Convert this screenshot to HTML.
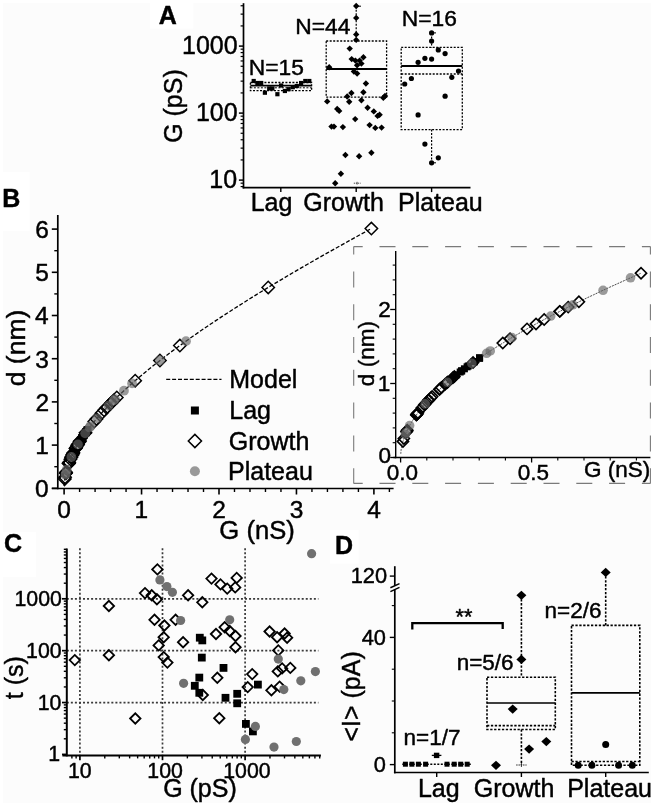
<!DOCTYPE html>
<html lang="en">
<head>
<meta charset="utf-8">
<title>Figure</title>
<style>
html,body{margin:0;padding:0;background:#fff;}
body{width:654px;height:806px;overflow:hidden;}
svg{display:block;}
svg text{font-family:"Liberation Sans",Arial,Helvetica,sans-serif;stroke:#000;stroke-width:0.45px;stroke-linejoin:round;}
</style>
</head>
<body>
<svg width="654" height="806" viewBox="0 0 654 806">
<rect x="0" y="0" width="654" height="806" fill="#fff"/>
<rect x="3" y="3" width="648" height="800" fill="#fcfcfc"/>
<rect x="150" y="0" width="43.4" height="28.5" fill="#fff"/>
<rect x="0" y="172" width="29.5" height="59" fill="#fff"/>
<rect x="0" y="532" width="36" height="45" fill="#fff"/>
<rect x="330" y="530" width="28.7" height="33.6" fill="#fff"/>
<line x1="243.50" y1="3.20" x2="243.50" y2="188.45" stroke="#000" stroke-width="1.7" />
<line x1="242.65" y1="187.60" x2="470.50" y2="187.60" stroke="#000" stroke-width="1.7" />
<line x1="240.60" y1="186.59" x2="243.50" y2="186.59" stroke="#000" stroke-width="1.2" />
<line x1="240.60" y1="183.17" x2="243.50" y2="183.17" stroke="#000" stroke-width="1.2" />
<line x1="238.90" y1="180.10" x2="243.50" y2="180.10" stroke="#000" stroke-width="1.5" />
<line x1="240.60" y1="159.93" x2="243.50" y2="159.93" stroke="#000" stroke-width="1.2" />
<line x1="240.60" y1="148.13" x2="243.50" y2="148.13" stroke="#000" stroke-width="1.2" />
<line x1="240.60" y1="139.76" x2="243.50" y2="139.76" stroke="#000" stroke-width="1.2" />
<line x1="240.60" y1="133.27" x2="243.50" y2="133.27" stroke="#000" stroke-width="1.2" />
<line x1="240.60" y1="127.96" x2="243.50" y2="127.96" stroke="#000" stroke-width="1.2" />
<line x1="240.60" y1="123.48" x2="243.50" y2="123.48" stroke="#000" stroke-width="1.2" />
<line x1="240.60" y1="119.59" x2="243.50" y2="119.59" stroke="#000" stroke-width="1.2" />
<line x1="240.60" y1="116.17" x2="243.50" y2="116.17" stroke="#000" stroke-width="1.2" />
<line x1="238.90" y1="113.10" x2="243.50" y2="113.10" stroke="#000" stroke-width="1.5" />
<line x1="240.60" y1="92.93" x2="243.50" y2="92.93" stroke="#000" stroke-width="1.2" />
<line x1="240.60" y1="81.13" x2="243.50" y2="81.13" stroke="#000" stroke-width="1.2" />
<line x1="240.60" y1="72.76" x2="243.50" y2="72.76" stroke="#000" stroke-width="1.2" />
<line x1="240.60" y1="66.27" x2="243.50" y2="66.27" stroke="#000" stroke-width="1.2" />
<line x1="240.60" y1="60.96" x2="243.50" y2="60.96" stroke="#000" stroke-width="1.2" />
<line x1="240.60" y1="56.48" x2="243.50" y2="56.48" stroke="#000" stroke-width="1.2" />
<line x1="240.60" y1="52.59" x2="243.50" y2="52.59" stroke="#000" stroke-width="1.2" />
<line x1="240.60" y1="49.17" x2="243.50" y2="49.17" stroke="#000" stroke-width="1.2" />
<line x1="238.90" y1="46.10" x2="243.50" y2="46.10" stroke="#000" stroke-width="1.5" />
<line x1="240.60" y1="25.93" x2="243.50" y2="25.93" stroke="#000" stroke-width="1.2" />
<line x1="240.60" y1="14.13" x2="243.50" y2="14.13" stroke="#000" stroke-width="1.2" />
<line x1="240.60" y1="5.76" x2="243.50" y2="5.76" stroke="#000" stroke-width="1.2" />
<line x1="280.80" y1="187.60" x2="280.80" y2="192.10" stroke="#000" stroke-width="1.4" />
<line x1="356.20" y1="187.60" x2="356.20" y2="192.10" stroke="#000" stroke-width="1.4" />
<line x1="431.60" y1="187.60" x2="431.60" y2="192.10" stroke="#000" stroke-width="1.4" />
<text x="158.70" y="23.60" font-size="25" font-weight="bold" fill="#000">A</text>
<text x="182.03" y="53.60" font-size="25" fill="#000">1000</text>
<text x="195.92" y="120.60" font-size="25" fill="#000">100</text>
<text x="209.32" y="187.50" font-size="25" fill="#000">10</text>
<text transform="translate(181.90,142.86) rotate(-90)" font-size="25" fill="#000">G (pS)</text>
<text x="250.67" y="210.80" font-size="25" fill="#000">Lag</text>
<text x="303.29" y="210.80" font-size="25" fill="#000">Growth</text>
<text x="397.96" y="210.80" font-size="25" fill="#000">Plateau</text>
<text x="248.72" y="75.20" font-size="22.8" fill="#000">N=15</text>
<text x="295.33" y="33.60" font-size="22.8" fill="#000">N=44</text>
<text x="401.84" y="26.40" font-size="22.8" fill="#000">N=16</text>
<rect x="250.40" y="82.50" width="61.20" height="8.20" fill="none" stroke="#000" stroke-width="1.3" stroke-dasharray="2 1.5"/>
<line x1="250.40" y1="85.60" x2="311.60" y2="85.60" stroke="#000" stroke-width="1.6" />
<line x1="250.40" y1="87.80" x2="311.60" y2="87.80" stroke="#000" stroke-width="1.0" stroke-dasharray="2 1.5" />
<rect x="251.60" y="78.90" width="4.2" height="4.2" fill="#000"/>
<rect x="255.30" y="80.90" width="4.2" height="4.2" fill="#000"/>
<rect x="259.10" y="80.90" width="4.2" height="4.2" fill="#000"/>
<rect x="262.80" y="90.60" width="4.2" height="4.2" fill="#000"/>
<rect x="267.10" y="86.40" width="4.2" height="4.2" fill="#000"/>
<rect x="270.30" y="86.40" width="4.2" height="4.2" fill="#000"/>
<rect x="275.30" y="92.10" width="4.2" height="4.2" fill="#000"/>
<rect x="279.00" y="83.40" width="4.2" height="4.2" fill="#000"/>
<rect x="282.80" y="88.90" width="4.2" height="4.2" fill="#000"/>
<rect x="286.50" y="87.10" width="4.2" height="4.2" fill="#000"/>
<rect x="290.70" y="85.10" width="4.2" height="4.2" fill="#000"/>
<rect x="294.70" y="83.90" width="4.2" height="4.2" fill="#000"/>
<rect x="299.00" y="80.90" width="4.2" height="4.2" fill="#000"/>
<rect x="303.20" y="78.90" width="4.2" height="4.2" fill="#000"/>
<rect x="307.20" y="78.90" width="4.2" height="4.2" fill="#000"/>
<rect x="326.20" y="41.00" width="60.40" height="56.20" fill="none" stroke="#000" stroke-width="1.3" stroke-dasharray="2 1.5"/>
<line x1="326.20" y1="69.00" x2="386.60" y2="69.00" stroke="#000" stroke-width="1.9" />
<line x1="356.20" y1="6.20" x2="356.20" y2="40.60" stroke="#000" stroke-width="1.2" stroke-dasharray="2 1.5" />
<line x1="356.20" y1="6.20" x2="361.00" y2="6.20" stroke="#000" stroke-width="1.0" />
<line x1="353.80" y1="183.20" x2="360.60" y2="183.20" stroke="#333" stroke-width="0.9" stroke-dasharray="1.2 0.8" />
<line x1="357.10" y1="181.80" x2="357.10" y2="184.60" stroke="#333" stroke-width="0.8" />
<path d="M353.00,6.00L356.20,2.80L359.40,6.00L356.20,9.20Z" fill="#000" stroke="none" stroke-width="0"/>
<path d="M353.00,17.90L356.20,14.70L359.40,17.90L356.20,21.10Z" fill="#000" stroke="none" stroke-width="0"/>
<path d="M353.00,34.40L356.20,31.20L359.40,34.40L356.20,37.60Z" fill="#000" stroke="none" stroke-width="0"/>
<path d="M353.00,39.90L356.20,36.70L359.40,39.90L356.20,43.10Z" fill="#000" stroke="none" stroke-width="0"/>
<path d="M346.50,48.60L349.70,45.40L352.90,48.60L349.70,51.80Z" fill="#000" stroke="none" stroke-width="0"/>
<path d="M348.50,59.10L351.70,55.90L354.90,59.10L351.70,62.30Z" fill="#000" stroke="none" stroke-width="0"/>
<path d="M352.20,60.60L355.40,57.40L358.60,60.60L355.40,63.80Z" fill="#000" stroke="none" stroke-width="0"/>
<path d="M356.40,60.60L359.60,57.40L362.80,60.60L359.60,63.80Z" fill="#000" stroke="none" stroke-width="0"/>
<path d="M360.20,57.30L363.40,54.10L366.60,57.30L363.40,60.50Z" fill="#000" stroke="none" stroke-width="0"/>
<path d="M358.20,63.60L361.40,60.40L364.60,63.60L361.40,66.80Z" fill="#000" stroke="none" stroke-width="0"/>
<path d="M353.90,65.30L357.10,62.10L360.30,65.30L357.10,68.50Z" fill="#000" stroke="none" stroke-width="0"/>
<path d="M326.00,67.30L329.20,64.10L332.40,67.30L329.20,70.50Z" fill="#000" stroke="none" stroke-width="0"/>
<path d="M350.70,71.50L353.90,68.30L357.10,71.50L353.90,74.70Z" fill="#000" stroke="none" stroke-width="0"/>
<path d="M353.90,73.50L357.10,70.30L360.30,73.50L357.10,76.70Z" fill="#000" stroke="none" stroke-width="0"/>
<path d="M362.70,83.50L365.90,80.30L369.10,83.50L365.90,86.70Z" fill="#000" stroke="none" stroke-width="0"/>
<path d="M348.20,93.00L351.40,89.80L354.60,93.00L351.40,96.20Z" fill="#000" stroke="none" stroke-width="0"/>
<path d="M360.20,92.20L363.40,89.00L366.60,92.20L363.40,95.40Z" fill="#000" stroke="none" stroke-width="0"/>
<path d="M344.00,96.50L347.20,93.30L350.40,96.50L347.20,99.70Z" fill="#000" stroke="none" stroke-width="0"/>
<path d="M381.80,96.00L385.00,92.80L388.20,96.00L385.00,99.20Z" fill="#000" stroke="none" stroke-width="0"/>
<path d="M380.10,97.70L383.30,94.50L386.50,97.70L383.30,100.90Z" fill="#000" stroke="none" stroke-width="0"/>
<path d="M324.00,101.40L327.20,98.20L330.40,101.40L327.20,104.60Z" fill="#000" stroke="none" stroke-width="0"/>
<path d="M346.00,101.70L349.20,98.50L352.40,101.70L349.20,104.90Z" fill="#000" stroke="none" stroke-width="0"/>
<path d="M358.20,100.20L361.40,97.00L364.60,100.20L361.40,103.40Z" fill="#000" stroke="none" stroke-width="0"/>
<path d="M364.40,107.70L367.60,104.50L370.80,107.70L367.60,110.90Z" fill="#000" stroke="none" stroke-width="0"/>
<path d="M334.00,108.90L337.20,105.70L340.40,108.90L337.20,112.10Z" fill="#000" stroke="none" stroke-width="0"/>
<path d="M336.00,110.90L339.20,107.70L342.40,110.90L339.20,114.10Z" fill="#000" stroke="none" stroke-width="0"/>
<path d="M370.60,111.40L373.80,108.20L377.00,111.40L373.80,114.60Z" fill="#000" stroke="none" stroke-width="0"/>
<path d="M376.40,114.70L379.60,111.50L382.80,114.70L379.60,117.90Z" fill="#000" stroke="none" stroke-width="0"/>
<path d="M374.40,115.90L377.60,112.70L380.80,115.90L377.60,119.10Z" fill="#000" stroke="none" stroke-width="0"/>
<path d="M352.00,119.10L355.20,115.90L358.40,119.10L355.20,122.30Z" fill="#000" stroke="none" stroke-width="0"/>
<path d="M366.40,125.10L369.60,121.90L372.80,125.10L369.60,128.30Z" fill="#000" stroke="none" stroke-width="0"/>
<path d="M328.30,126.60L331.50,123.40L334.70,126.60L331.50,129.80Z" fill="#000" stroke="none" stroke-width="0"/>
<path d="M330.80,126.60L334.00,123.40L337.20,126.60L334.00,129.80Z" fill="#000" stroke="none" stroke-width="0"/>
<path d="M339.70,127.10L342.90,123.90L346.10,127.10L342.90,130.30Z" fill="#000" stroke="none" stroke-width="0"/>
<path d="M372.10,127.90L375.30,124.70L378.50,127.90L375.30,131.10Z" fill="#000" stroke="none" stroke-width="0"/>
<path d="M378.40,127.60L381.60,124.40L384.80,127.60L381.60,130.80Z" fill="#000" stroke="none" stroke-width="0"/>
<path d="M342.20,155.00L345.40,151.80L348.60,155.00L345.40,158.20Z" fill="#000" stroke="none" stroke-width="0"/>
<path d="M355.90,156.30L359.10,153.10L362.30,156.30L359.10,159.50Z" fill="#000" stroke="none" stroke-width="0"/>
<path d="M368.20,152.80L371.40,149.60L374.60,152.80L371.40,156.00Z" fill="#000" stroke="none" stroke-width="0"/>
<path d="M337.70,173.70L340.90,170.50L344.10,173.70L340.90,176.90Z" fill="#000" stroke="none" stroke-width="0"/>
<path d="M332.00,183.20L335.20,180.00L338.40,183.20L335.20,186.40Z" fill="#000" stroke="none" stroke-width="0"/>
<rect x="401.20" y="47.40" width="61.10" height="82.20" fill="none" stroke="#000" stroke-width="1.3" stroke-dasharray="2 1.5"/>
<line x1="401.20" y1="66.00" x2="462.30" y2="66.00" stroke="#000" stroke-width="2.0" />
<line x1="401.20" y1="74.00" x2="462.30" y2="74.00" stroke="#000" stroke-width="1.3" stroke-dasharray="2 1.5" />
<line x1="431.60" y1="32.90" x2="431.60" y2="47.40" stroke="#000" stroke-width="1.2" stroke-dasharray="2 1.5" />
<line x1="431.60" y1="129.60" x2="431.60" y2="162.80" stroke="#000" stroke-width="1.2" stroke-dasharray="2 1.5" />
<line x1="431.60" y1="32.90" x2="436.00" y2="32.90" stroke="#000" stroke-width="1.0" />
<line x1="431.60" y1="162.80" x2="436.00" y2="162.80" stroke="#000" stroke-width="1.0" />
<circle cx="431.60" cy="32.90" r="2.6" fill="#000"/>
<circle cx="431.60" cy="41.10" r="2.6" fill="#000"/>
<circle cx="438.30" cy="49.90" r="2.6" fill="#000"/>
<circle cx="445.10" cy="53.60" r="2.6" fill="#000"/>
<circle cx="424.90" cy="58.30" r="2.6" fill="#000"/>
<circle cx="431.60" cy="59.10" r="2.6" fill="#000"/>
<circle cx="418.10" cy="62.30" r="2.6" fill="#000"/>
<circle cx="458.50" cy="71.00" r="2.6" fill="#000"/>
<circle cx="451.80" cy="77.30" r="2.6" fill="#000"/>
<circle cx="411.40" cy="78.50" r="2.6" fill="#000"/>
<circle cx="404.70" cy="84.00" r="2.6" fill="#000"/>
<circle cx="445.10" cy="96.20" r="2.6" fill="#000"/>
<circle cx="418.10" cy="114.90" r="2.6" fill="#000"/>
<circle cx="424.90" cy="144.10" r="2.6" fill="#000"/>
<circle cx="438.30" cy="157.80" r="2.6" fill="#000"/>
<circle cx="431.60" cy="162.80" r="2.6" fill="#000"/>
<line x1="57.80" y1="214.90" x2="57.80" y2="489.35" stroke="#000" stroke-width="1.7" />
<line x1="51.80" y1="488.50" x2="393.60" y2="488.50" stroke="#000" stroke-width="1.7" />
<line x1="51.80" y1="488.30" x2="57.80" y2="488.30" stroke="#000" stroke-width="1.6" />
<line x1="54.30" y1="466.70" x2="57.80" y2="466.70" stroke="#000" stroke-width="1.4" />
<line x1="51.80" y1="445.10" x2="57.80" y2="445.10" stroke="#000" stroke-width="1.6" />
<line x1="54.30" y1="423.50" x2="57.80" y2="423.50" stroke="#000" stroke-width="1.4" />
<line x1="51.80" y1="401.90" x2="57.80" y2="401.90" stroke="#000" stroke-width="1.6" />
<line x1="54.30" y1="380.30" x2="57.80" y2="380.30" stroke="#000" stroke-width="1.4" />
<line x1="51.80" y1="358.70" x2="57.80" y2="358.70" stroke="#000" stroke-width="1.6" />
<line x1="54.30" y1="337.10" x2="57.80" y2="337.10" stroke="#000" stroke-width="1.4" />
<line x1="51.80" y1="315.50" x2="57.80" y2="315.50" stroke="#000" stroke-width="1.6" />
<line x1="54.30" y1="293.90" x2="57.80" y2="293.90" stroke="#000" stroke-width="1.4" />
<line x1="51.80" y1="272.30" x2="57.80" y2="272.30" stroke="#000" stroke-width="1.6" />
<line x1="54.30" y1="250.70" x2="57.80" y2="250.70" stroke="#000" stroke-width="1.4" />
<line x1="51.80" y1="229.10" x2="57.80" y2="229.10" stroke="#000" stroke-width="1.6" />
<line x1="64.10" y1="488.50" x2="64.10" y2="494.50" stroke="#000" stroke-width="1.6" />
<line x1="79.59" y1="488.50" x2="79.59" y2="492.00" stroke="#000" stroke-width="1.4" />
<line x1="95.08" y1="488.50" x2="95.08" y2="492.00" stroke="#000" stroke-width="1.4" />
<line x1="110.57" y1="488.50" x2="110.57" y2="492.00" stroke="#000" stroke-width="1.4" />
<line x1="126.06" y1="488.50" x2="126.06" y2="492.00" stroke="#000" stroke-width="1.4" />
<line x1="141.55" y1="488.50" x2="141.55" y2="494.50" stroke="#000" stroke-width="1.6" />
<line x1="157.04" y1="488.50" x2="157.04" y2="492.00" stroke="#000" stroke-width="1.4" />
<line x1="172.53" y1="488.50" x2="172.53" y2="492.00" stroke="#000" stroke-width="1.4" />
<line x1="188.02" y1="488.50" x2="188.02" y2="492.00" stroke="#000" stroke-width="1.4" />
<line x1="203.51" y1="488.50" x2="203.51" y2="492.00" stroke="#000" stroke-width="1.4" />
<line x1="219.00" y1="488.50" x2="219.00" y2="494.50" stroke="#000" stroke-width="1.6" />
<line x1="234.49" y1="488.50" x2="234.49" y2="492.00" stroke="#000" stroke-width="1.4" />
<line x1="249.98" y1="488.50" x2="249.98" y2="492.00" stroke="#000" stroke-width="1.4" />
<line x1="265.47" y1="488.50" x2="265.47" y2="492.00" stroke="#000" stroke-width="1.4" />
<line x1="280.96" y1="488.50" x2="280.96" y2="492.00" stroke="#000" stroke-width="1.4" />
<line x1="296.45" y1="488.50" x2="296.45" y2="494.50" stroke="#000" stroke-width="1.6" />
<line x1="311.94" y1="488.50" x2="311.94" y2="492.00" stroke="#000" stroke-width="1.4" />
<line x1="327.43" y1="488.50" x2="327.43" y2="492.00" stroke="#000" stroke-width="1.4" />
<line x1="342.92" y1="488.50" x2="342.92" y2="492.00" stroke="#000" stroke-width="1.4" />
<line x1="358.41" y1="488.50" x2="358.41" y2="492.00" stroke="#000" stroke-width="1.4" />
<line x1="373.90" y1="488.50" x2="373.90" y2="494.50" stroke="#000" stroke-width="1.6" />
<line x1="389.39" y1="488.50" x2="389.39" y2="492.00" stroke="#000" stroke-width="1.4" />
<text x="2.26" y="207.40" font-size="25" font-weight="bold" fill="#000">B</text>
<text x="35.11" y="497.10" font-size="24.5" fill="#000">0</text>
<text x="35.35" y="453.90" font-size="24.5" fill="#000">1</text>
<text x="35.40" y="410.70" font-size="24.5" fill="#000">2</text>
<text x="35.23" y="367.50" font-size="24.5" fill="#000">3</text>
<text x="34.89" y="324.30" font-size="24.5" fill="#000">4</text>
<text x="35.18" y="281.10" font-size="24.5" fill="#000">5</text>
<text x="35.23" y="237.90" font-size="24.5" fill="#000">6</text>
<text x="57.28" y="518.00" font-size="24.5" fill="#000">0</text>
<text x="134.40" y="518.00" font-size="24.5" fill="#000">1</text>
<text x="212.19" y="518.00" font-size="24.5" fill="#000">2</text>
<text x="289.70" y="518.00" font-size="24.5" fill="#000">3</text>
<text x="367.17" y="518.00" font-size="24.5" fill="#000">4</text>
<text transform="translate(24.60,386.26) rotate(-90)" font-size="26.5" fill="#000">d (nm)</text>
<text x="219.36" y="539.30" font-size="25.6" fill="#000">G (nS)</text>
<polyline fill="none" stroke="#000" stroke-width="1.3" stroke-dasharray="4 1.9" points="64.1,486.1 64.1,486.1 64.1,486.0 64.1,486.0 64.1,485.9 64.1,485.9 64.1,485.8 64.2,485.8 64.2,485.7 64.2,485.7 64.2,485.6 64.2,485.6 64.2,485.5 64.2,485.5 64.2,485.4 64.2,485.4 64.2,485.3 64.2,485.2 64.2,485.2 64.2,485.1 64.2,485.1 64.2,485.0 64.2,484.9 64.2,484.9 64.2,484.8 64.2,484.7 64.2,484.6 64.2,484.6 64.2,484.5 64.2,484.4 64.2,484.3 64.2,484.3 64.2,484.2 64.2,484.1 64.2,484.0 64.3,483.9 64.3,483.9 64.3,483.8 64.3,483.7 64.3,483.6 64.3,483.5 64.3,483.4 64.3,483.3 64.3,483.2 64.3,483.1 64.3,483.0 64.3,482.9 64.3,482.8 64.4,482.7 64.4,482.5 64.4,482.4 64.4,482.3 64.4,482.2 64.4,482.1 64.4,481.9 64.4,481.8 64.4,481.7 64.5,481.6 64.5,481.4 64.5,481.3 64.5,481.1 64.5,481.0 64.5,480.9 64.6,480.7 64.6,480.6 64.6,480.4 64.6,480.2 64.6,480.1 64.7,479.9 64.7,479.8 64.7,479.6 64.7,479.4 64.8,479.2 64.8,479.0 64.8,478.9 64.8,478.7 64.9,478.5 64.9,478.3 64.9,478.1 65.0,477.9 65.0,477.7 65.0,477.4 65.1,477.2 65.1,477.0 65.1,476.8 65.2,476.5 65.2,476.3 65.3,476.1 65.3,475.8 65.4,475.6 65.4,475.3 65.5,475.0 65.5,474.8 65.6,474.5 65.6,474.2 65.7,473.9 65.8,473.7 65.8,473.4 65.9,473.1 66.0,472.7 66.1,472.4 66.1,472.1 66.2,471.8 66.3,471.4 66.4,471.1 66.5,470.8 66.6,470.4 66.7,470.0 66.8,469.7 66.9,469.3 67.0,468.9 67.1,468.5 67.2,468.1 67.4,467.7 67.5,467.3 67.6,466.8 67.8,466.4 67.9,465.9 68.1,465.5 68.2,465.0 68.4,464.5 68.6,464.1 68.7,463.6 68.9,463.0 69.1,462.5 69.3,462.0 69.5,461.5 69.7,460.9 70.0,460.3 70.2,459.8 70.4,459.2 70.7,458.6 71.0,458.0 71.2,457.3 71.5,456.7 71.8,456.0 72.1,455.4 72.4,454.7 72.8,454.0 73.1,453.3 73.5,452.5 73.9,451.8 74.3,451.0 74.7,450.3 75.1,449.5 75.5,448.6 76.0,447.8 76.5,447.0 77.0,446.1 77.5,445.2 78.0,444.3 78.6,443.4 79.1,442.4 79.7,441.5 80.4,440.5 81.0,439.5 81.7,438.4 82.4,437.4 83.1,436.3 83.9,435.2 84.7,434.0 85.5,432.9 86.4,431.7 87.2,430.5 88.2,429.3 89.1,428.0 90.1,426.7 91.2,425.4 92.3,424.0 93.4,422.6 94.6,421.2 95.8,419.7 97.0,418.3 98.4,416.7 99.7,415.2 101.2,413.6 102.6,411.9 104.2,410.3 105.8,408.6 107.4,406.8 109.2,405.0 111.0,403.2 112.9,401.3 114.8,399.4 116.8,397.4 118.9,395.4 121.1,393.3 123.4,391.2 125.8,389.0 128.3,386.8 130.8,384.5 133.5,382.1 136.3,379.7 139.2,377.3 142.2,374.8 145.3,372.2 148.5,369.5 151.9,366.8 155.4,364.0 159.1,361.2 162.9,358.2 166.8,355.2 170.9,352.1 175.2,349.0 179.7,345.7 184.3,342.4 189.1,339.0 194.1,335.4 199.3,331.8 204.7,328.1 210.3,324.3 216.2,320.4 222.2,316.4 228.6,312.3 235.2,308.0 242.0,303.7 249.1,299.2 256.5,294.6 264.2,289.9 272.2,285.0 280.5,280.1 289.2,274.9 298.2,269.6 307.6,264.2 317.3,258.6 327.4,252.9 338.0,247.0 348.9,240.9 360.3,234.6 370.0,229.3"/>
<rect x="83.69" y="426.47" width="7.5" height="7.5" fill="#000"/>
<rect x="82.14" y="428.59" width="7.5" height="7.5" fill="#000"/>
<rect x="82.14" y="428.59" width="7.5" height="7.5" fill="#000"/>
<rect x="75.96" y="437.75" width="7.5" height="7.5" fill="#000"/>
<rect x="78.39" y="433.99" width="7.5" height="7.5" fill="#000"/>
<rect x="78.39" y="433.99" width="7.5" height="7.5" fill="#000"/>
<rect x="75.18" y="439.01" width="7.5" height="7.5" fill="#000"/>
<rect x="80.35" y="431.12" width="7.5" height="7.5" fill="#000"/>
<rect x="76.90" y="436.26" width="7.5" height="7.5" fill="#000"/>
<rect x="77.96" y="434.64" width="7.5" height="7.5" fill="#000"/>
<rect x="79.21" y="432.77" width="7.5" height="7.5" fill="#000"/>
<rect x="80.01" y="431.61" width="7.5" height="7.5" fill="#000"/>
<rect x="82.14" y="428.59" width="7.5" height="7.5" fill="#000"/>
<rect x="83.69" y="426.47" width="7.5" height="7.5" fill="#000"/>
<rect x="83.69" y="426.47" width="7.5" height="7.5" fill="#000"/>
<path d="M58.60,478.92L64.80,472.72L71.00,478.92L64.80,485.12Z" fill="none" stroke="#000" stroke-width="1.5"/>
<path d="M58.87,477.23L65.07,471.03L71.27,477.23L65.07,483.43Z" fill="none" stroke="#000" stroke-width="1.5"/>
<path d="M59.65,473.28L65.85,467.08L72.05,473.28L65.85,479.48Z" fill="none" stroke="#000" stroke-width="1.5"/>
<path d="M59.74,472.94L65.94,466.74L72.14,472.94L65.94,479.14Z" fill="none" stroke="#000" stroke-width="1.5"/>
<path d="M59.88,472.33L66.08,466.13L72.28,472.33L66.08,478.53Z" fill="none" stroke="#000" stroke-width="1.5"/>
<path d="M62.56,463.49L68.76,457.29L74.96,463.49L68.76,469.69Z" fill="none" stroke="#000" stroke-width="1.5"/>
<path d="M62.61,463.36L68.81,457.16L75.01,463.36L68.81,469.56Z" fill="none" stroke="#000" stroke-width="1.5"/>
<path d="M62.69,463.14L68.89,456.94L75.09,463.14L68.89,469.34Z" fill="none" stroke="#000" stroke-width="1.5"/>
<path d="M62.77,462.91L68.97,456.71L75.17,462.91L68.97,469.11Z" fill="none" stroke="#000" stroke-width="1.5"/>
<path d="M62.77,462.91L68.97,456.71L75.17,462.91L68.97,469.11Z" fill="none" stroke="#000" stroke-width="1.5"/>
<path d="M63.03,462.23L69.23,456.03L75.43,462.23L69.23,468.43Z" fill="none" stroke="#000" stroke-width="1.5"/>
<path d="M64.20,459.27L70.40,453.07L76.60,459.27L70.40,465.47Z" fill="none" stroke="#000" stroke-width="1.5"/>
<path d="M64.93,457.56L71.13,451.36L77.33,457.56L71.13,463.76Z" fill="none" stroke="#000" stroke-width="1.5"/>
<path d="M65.23,456.89L71.43,450.69L77.63,456.89L71.43,463.09Z" fill="none" stroke="#000" stroke-width="1.5"/>
<path d="M66.11,454.97L72.31,448.77L78.51,454.97L72.31,461.17Z" fill="none" stroke="#000" stroke-width="1.5"/>
<path d="M66.25,454.67L72.45,448.47L78.65,454.67L72.45,460.87Z" fill="none" stroke="#000" stroke-width="1.5"/>
<path d="M66.85,453.43L73.05,447.23L79.25,453.43L73.05,459.63Z" fill="none" stroke="#000" stroke-width="1.5"/>
<path d="M67.22,452.67L73.42,446.47L79.62,452.67L73.42,458.87Z" fill="none" stroke="#000" stroke-width="1.5"/>
<path d="M69.36,448.58L75.56,442.38L81.76,448.58L75.56,454.78Z" fill="none" stroke="#000" stroke-width="1.5"/>
<path d="M69.48,448.36L75.68,442.16L81.88,448.36L75.68,454.56Z" fill="none" stroke="#000" stroke-width="1.5"/>
<path d="M69.97,447.48L76.17,441.28L82.37,447.48L76.17,453.68Z" fill="none" stroke="#000" stroke-width="1.5"/>
<path d="M71.05,445.58L77.25,439.38L83.45,445.58L77.25,451.78Z" fill="none" stroke="#000" stroke-width="1.5"/>
<path d="M71.60,444.64L77.80,438.44L84.00,444.64L77.80,450.84Z" fill="none" stroke="#000" stroke-width="1.5"/>
<path d="M71.84,444.24L78.04,438.04L84.24,444.24L78.04,450.44Z" fill="none" stroke="#000" stroke-width="1.5"/>
<path d="M73.35,441.75L79.55,435.55L85.75,441.75L79.55,447.95Z" fill="none" stroke="#000" stroke-width="1.5"/>
<path d="M73.78,441.07L79.98,434.87L86.18,441.07L79.98,447.27Z" fill="none" stroke="#000" stroke-width="1.5"/>
<path d="M79.32,432.86L85.52,426.66L91.72,432.86L85.52,439.06Z" fill="none" stroke="#000" stroke-width="1.5"/>
<path d="M88.10,421.50L94.30,415.30L100.50,421.50L94.30,427.70Z" fill="none" stroke="#000" stroke-width="1.5"/>
<path d="M90.25,418.94L96.45,412.74L102.65,418.94L96.45,425.14Z" fill="none" stroke="#000" stroke-width="1.5"/>
<path d="M95.28,413.22L101.48,407.02L107.68,413.22L101.48,419.42Z" fill="none" stroke="#000" stroke-width="1.5"/>
<path d="M97.94,410.32L104.14,404.12L110.34,410.32L104.14,416.52Z" fill="none" stroke="#000" stroke-width="1.5"/>
<path d="M100.35,407.75L106.55,401.55L112.75,407.75L106.55,413.95Z" fill="none" stroke="#000" stroke-width="1.5"/>
<path d="M104.95,403.00L111.15,396.80L117.35,403.00L111.15,409.20Z" fill="none" stroke="#000" stroke-width="1.5"/>
<path d="M104.95,403.00L111.15,396.80L117.35,403.00L111.15,409.20Z" fill="none" stroke="#000" stroke-width="1.5"/>
<path d="M107.44,400.51L113.64,394.31L119.84,400.51L113.64,406.71Z" fill="none" stroke="#000" stroke-width="1.5"/>
<path d="M110.61,397.42L116.81,391.22L123.01,397.42L116.81,403.62Z" fill="none" stroke="#000" stroke-width="1.5"/>
<path d="M128.97,380.69L135.17,374.49L141.37,380.69L135.17,386.89Z" fill="none" stroke="#000" stroke-width="1.5"/>
<path d="M153.74,360.49L159.94,354.29L166.14,360.49L159.94,366.69Z" fill="none" stroke="#000" stroke-width="1.5"/>
<path d="M173.68,345.55L179.88,339.35L186.08,345.55L179.88,351.75Z" fill="none" stroke="#000" stroke-width="1.5"/>
<path d="M262.03,287.45L268.23,281.25L274.43,287.45L268.23,293.65Z" fill="none" stroke="#000" stroke-width="1.5"/>
<path d="M365.18,228.59L371.38,222.39L377.58,228.59L371.38,234.79Z" fill="none" stroke="#000" stroke-width="1.5"/>
<circle cx="186.01" cy="341.14" r="4.9" fill="#666" fill-opacity="0.65"/>
<circle cx="159.94" cy="360.49" r="4.9" fill="#666" fill-opacity="0.65"/>
<circle cx="132.07" cy="383.39" r="4.9" fill="#666" fill-opacity="0.65"/>
<circle cx="123.95" cy="390.68" r="4.9" fill="#666" fill-opacity="0.65"/>
<circle cx="115.03" cy="399.15" r="4.9" fill="#666" fill-opacity="0.65"/>
<circle cx="113.64" cy="400.51" r="4.9" fill="#666" fill-opacity="0.65"/>
<circle cx="108.48" cy="405.73" r="4.9" fill="#666" fill-opacity="0.65"/>
<circle cx="97.01" cy="418.28" r="4.9" fill="#666" fill-opacity="0.65"/>
<circle cx="90.61" cy="426.08" r="4.9" fill="#666" fill-opacity="0.65"/>
<circle cx="89.54" cy="427.46" r="4.9" fill="#666" fill-opacity="0.65"/>
<circle cx="85.15" cy="433.37" r="4.9" fill="#666" fill-opacity="0.65"/>
<circle cx="77.94" cy="444.40" r="4.9" fill="#666" fill-opacity="0.65"/>
<circle cx="71.38" cy="457.00" r="4.9" fill="#666" fill-opacity="0.65"/>
<circle cx="66.77" cy="469.69" r="4.9" fill="#666" fill-opacity="0.65"/>
<circle cx="65.77" cy="473.68" r="4.9" fill="#666" fill-opacity="0.65"/>
<circle cx="65.50" cy="474.90" r="4.9" fill="#666" fill-opacity="0.65"/>
<line x1="166.20" y1="379.40" x2="221.50" y2="379.40" stroke="#000" stroke-width="1.3" stroke-dasharray="4 1.9" />
<rect x="190.90" y="406.50" width="8" height="8" fill="#000"/>
<path d="M188.30,441.00L194.90,434.40L201.50,441.00L194.90,447.60Z" fill="#fff" stroke="#000" stroke-width="1.5"/>
<circle cx="194.90" cy="471.20" r="5" fill="#999"/>
<text x="229.26" y="388.40" font-size="25" fill="#000">Model</text>
<text x="229.32" y="419.00" font-size="25" fill="#000">Lag</text>
<text x="228.74" y="449.60" font-size="25" fill="#000">Growth</text>
<text x="228.01" y="480.00" font-size="25" fill="#000">Plateau</text>
<line x1="353.70" y1="246.60" x2="650.40" y2="246.60" stroke="#7a7a7a" stroke-width="1.1" stroke-dasharray="16 16.8" stroke-dashoffset="7"/>
<line x1="353.70" y1="483.40" x2="650.40" y2="483.40" stroke="#7a7a7a" stroke-width="1.1" stroke-dasharray="16 16.8" stroke-dashoffset="7"/>
<line x1="353.70" y1="246.60" x2="353.70" y2="483.40" stroke="#7a7a7a" stroke-width="1.1" stroke-dasharray="16 16.8" stroke-dashoffset="8"/>
<line x1="650.40" y1="246.60" x2="650.40" y2="483.40" stroke="#7a7a7a" stroke-width="1.1" stroke-dasharray="16 16.8" stroke-dashoffset="8"/>
<line x1="395.70" y1="251.10" x2="395.70" y2="458.20" stroke="#000" stroke-width="1.4" />
<line x1="393.40" y1="457.50" x2="650.40" y2="457.50" stroke="#000" stroke-width="1.4" />
<line x1="390.20" y1="457.50" x2="395.70" y2="457.50" stroke="#000" stroke-width="1.3" />
<line x1="392.70" y1="442.70" x2="395.70" y2="442.70" stroke="#000" stroke-width="1.1" />
<line x1="392.70" y1="427.90" x2="395.70" y2="427.90" stroke="#000" stroke-width="1.1" />
<line x1="392.70" y1="413.10" x2="395.70" y2="413.10" stroke="#000" stroke-width="1.1" />
<line x1="392.70" y1="398.30" x2="395.70" y2="398.30" stroke="#000" stroke-width="1.1" />
<line x1="390.20" y1="383.50" x2="395.70" y2="383.50" stroke="#000" stroke-width="1.3" />
<line x1="392.70" y1="368.70" x2="395.70" y2="368.70" stroke="#000" stroke-width="1.1" />
<line x1="392.70" y1="353.90" x2="395.70" y2="353.90" stroke="#000" stroke-width="1.1" />
<line x1="392.70" y1="339.10" x2="395.70" y2="339.10" stroke="#000" stroke-width="1.1" />
<line x1="392.70" y1="324.30" x2="395.70" y2="324.30" stroke="#000" stroke-width="1.1" />
<line x1="390.20" y1="309.50" x2="395.70" y2="309.50" stroke="#000" stroke-width="1.3" />
<line x1="392.70" y1="294.70" x2="395.70" y2="294.70" stroke="#000" stroke-width="1.1" />
<line x1="392.70" y1="279.90" x2="395.70" y2="279.90" stroke="#000" stroke-width="1.1" />
<line x1="392.70" y1="265.10" x2="395.70" y2="265.10" stroke="#000" stroke-width="1.1" />
<line x1="400.60" y1="457.50" x2="400.60" y2="462.50" stroke="#000" stroke-width="1.3" />
<line x1="426.80" y1="457.50" x2="426.80" y2="460.50" stroke="#000" stroke-width="1.1" />
<line x1="453.00" y1="457.50" x2="453.00" y2="460.50" stroke="#000" stroke-width="1.1" />
<line x1="479.20" y1="457.50" x2="479.20" y2="460.50" stroke="#000" stroke-width="1.1" />
<line x1="505.40" y1="457.50" x2="505.40" y2="460.50" stroke="#000" stroke-width="1.1" />
<line x1="531.60" y1="457.50" x2="531.60" y2="462.50" stroke="#000" stroke-width="1.3" />
<line x1="557.80" y1="457.50" x2="557.80" y2="460.50" stroke="#000" stroke-width="1.1" />
<line x1="584.00" y1="457.50" x2="584.00" y2="460.50" stroke="#000" stroke-width="1.1" />
<line x1="610.20" y1="457.50" x2="610.20" y2="460.50" stroke="#000" stroke-width="1.1" />
<line x1="636.40" y1="457.50" x2="636.40" y2="460.50" stroke="#000" stroke-width="1.1" />
<text x="378.43" y="463.00" font-size="22.5" fill="#000">0</text>
<text x="377.83" y="391.00" font-size="22.5" fill="#000">1</text>
<text x="378.25" y="317.00" font-size="22.5" fill="#000">2</text>
<text x="386.70" y="479.50" font-size="22.5" fill="#000">0.0</text>
<text x="517.73" y="479.50" font-size="22.5" fill="#000">0.5</text>
<text x="583.90" y="476.80" font-size="22.5" fill="#000">G (nS)</text>
<text transform="translate(373.50,386.13) rotate(-90)" font-size="22.5" fill="#000">d (nm)</text>
<polyline fill="none" stroke="#333" stroke-width="0.9" stroke-dasharray="2 1" points="400.7,453.8 400.7,453.7 400.7,453.6 400.7,453.5 400.8,453.4 400.8,453.4 400.8,453.3 400.8,453.2 400.8,453.1 400.8,453.0 400.8,452.9 400.8,452.8 400.8,452.8 400.8,452.7 400.8,452.6 400.8,452.5 400.8,452.4 400.9,452.3 400.9,452.2 400.9,452.0 400.9,451.9 400.9,451.8 400.9,451.7 400.9,451.6 400.9,451.5 400.9,451.4 401.0,451.2 401.0,451.1 401.0,451.0 401.0,450.9 401.0,450.7 401.0,450.6 401.1,450.5 401.1,450.3 401.1,450.2 401.1,450.0 401.1,449.9 401.2,449.7 401.2,449.6 401.2,449.4 401.2,449.3 401.3,449.1 401.3,448.9 401.3,448.7 401.3,448.6 401.4,448.4 401.4,448.2 401.4,448.0 401.5,447.8 401.5,447.6 401.5,447.5 401.6,447.2 401.6,447.0 401.6,446.8 401.7,446.6 401.7,446.4 401.8,446.2 401.8,446.0 401.9,445.7 401.9,445.5 402.0,445.2 402.0,445.0 402.1,444.8 402.2,444.5 402.2,444.2 402.3,444.0 402.3,443.7 402.4,443.4 402.5,443.1 402.6,442.9 402.6,442.6 402.7,442.3 402.8,442.0 402.9,441.6 403.0,441.3 403.1,441.0 403.2,440.7 403.3,440.3 403.4,440.0 403.5,439.6 403.6,439.3 403.7,438.9 403.9,438.5 404.0,438.1 404.1,437.8 404.3,437.4 404.4,437.0 404.6,436.5 404.7,436.1 404.9,435.7 405.1,435.2 405.2,434.8 405.4,434.3 405.6,433.9 405.8,433.4 406.0,432.9 406.3,432.4 406.5,431.9 406.7,431.4 407.0,430.9 407.2,430.3 407.5,429.8 407.8,429.2 408.0,428.6 408.3,428.0 408.6,427.4 409.0,426.8 409.3,426.2 409.7,425.6 410.0,424.9 410.4,424.3 410.8,423.6 411.2,422.9 411.6,422.2 412.1,421.5 412.5,420.7 413.0,420.0 413.5,419.2 414.0,418.4 414.5,417.6 415.1,416.8 415.7,416.0 416.3,415.1 416.9,414.2 417.6,413.4 418.2,412.4 418.9,411.5 419.7,410.6 420.4,409.6 421.2,408.6 422.1,407.6 422.9,406.6 423.8,405.5 424.7,404.5 425.7,403.4 426.7,402.2 427.8,401.1 428.8,399.9 430.0,398.7 431.1,397.5 432.4,396.2 433.6,395.0 435.0,393.7 436.3,392.3 437.8,391.0 439.2,389.6 440.8,388.2 442.4,386.7 444.1,385.2 445.8,383.7 447.6,382.1 449.5,380.6 451.5,378.9 453.5,377.3 455.6,375.6 457.8,373.8 460.1,372.1 462.5,370.3 464.9,368.4 467.5,366.5 470.2,364.6 473.0,362.6 475.9,360.6 478.9,358.5 482.0,356.4 485.3,354.2 488.7,352.0 492.2,349.7 495.9,347.4 499.7,345.0 503.6,342.6 507.7,340.1 512.0,337.5 516.5,334.9 521.1,332.2 525.9,329.5 531.0,326.7 536.2,323.8 541.6,320.9 547.2,317.9 553.1,314.8 559.2,311.7 565.5,308.5 572.1,305.2 579.0,301.8 586.1,298.3 593.6,294.8 601.3,291.1 609.3,287.4 617.7,283.6 626.3,279.7 635.4,275.7 640.6,273.4"/>
<rect x="476.06" y="354.52" width="7" height="7" fill="#000"/>
<rect x="470.81" y="358.14" width="7" height="7" fill="#000"/>
<rect x="470.81" y="358.14" width="7" height="7" fill="#000"/>
<rect x="449.92" y="373.83" width="7" height="7" fill="#000"/>
<rect x="458.12" y="367.40" width="7" height="7" fill="#000"/>
<rect x="458.12" y="367.40" width="7" height="7" fill="#000"/>
<rect x="447.26" y="376.00" width="7" height="7" fill="#000"/>
<rect x="464.75" y="362.47" width="7" height="7" fill="#000"/>
<rect x="453.10" y="371.29" width="7" height="7" fill="#000"/>
<rect x="456.67" y="368.51" width="7" height="7" fill="#000"/>
<rect x="460.91" y="365.30" width="7" height="7" fill="#000"/>
<rect x="463.59" y="363.31" width="7" height="7" fill="#000"/>
<rect x="470.81" y="358.14" width="7" height="7" fill="#000"/>
<rect x="476.06" y="354.52" width="7" height="7" fill="#000"/>
<rect x="476.06" y="354.52" width="7" height="7" fill="#000"/>
<path d="M397.36,441.43L402.96,435.83L408.56,441.43L402.96,447.03Z" fill="none" stroke="#000" stroke-width="1.6"/>
<path d="M398.26,438.54L403.86,432.94L409.46,438.54L403.86,444.14Z" fill="none" stroke="#000" stroke-width="1.6"/>
<path d="M400.94,431.78L406.54,426.18L412.14,431.78L406.54,437.38Z" fill="none" stroke="#000" stroke-width="1.6"/>
<path d="M401.21,431.19L406.81,425.59L412.41,431.19L406.81,436.79Z" fill="none" stroke="#000" stroke-width="1.6"/>
<path d="M401.70,430.15L407.30,424.55L412.90,430.15L407.30,435.75Z" fill="none" stroke="#000" stroke-width="1.6"/>
<path d="M410.75,415.01L416.35,409.41L421.95,415.01L416.35,420.61Z" fill="none" stroke="#000" stroke-width="1.6"/>
<path d="M410.92,414.78L416.52,409.18L422.12,414.78L416.52,420.38Z" fill="none" stroke="#000" stroke-width="1.6"/>
<path d="M411.19,414.40L416.79,408.80L422.39,414.40L416.79,420.00Z" fill="none" stroke="#000" stroke-width="1.6"/>
<path d="M411.47,414.01L417.07,408.41L422.67,414.01L417.07,419.61Z" fill="none" stroke="#000" stroke-width="1.6"/>
<path d="M411.47,414.01L417.07,408.41L422.67,414.01L417.07,419.61Z" fill="none" stroke="#000" stroke-width="1.6"/>
<path d="M412.35,412.84L417.95,407.24L423.55,412.84L417.95,418.44Z" fill="none" stroke="#000" stroke-width="1.6"/>
<path d="M416.32,407.78L421.92,402.18L427.52,407.78L421.92,413.38Z" fill="none" stroke="#000" stroke-width="1.6"/>
<path d="M418.80,404.84L424.40,399.24L430.00,404.84L424.40,410.44Z" fill="none" stroke="#000" stroke-width="1.6"/>
<path d="M419.80,403.70L425.40,398.10L431.00,403.70L425.40,409.30Z" fill="none" stroke="#000" stroke-width="1.6"/>
<path d="M422.78,400.41L428.38,394.81L433.98,400.41L428.38,406.01Z" fill="none" stroke="#000" stroke-width="1.6"/>
<path d="M423.26,399.89L428.86,394.29L434.46,399.89L428.86,405.49Z" fill="none" stroke="#000" stroke-width="1.6"/>
<path d="M425.27,397.78L430.87,392.18L436.47,397.78L430.87,403.38Z" fill="none" stroke="#000" stroke-width="1.6"/>
<path d="M426.54,396.47L432.14,390.87L437.74,396.47L432.14,402.07Z" fill="none" stroke="#000" stroke-width="1.6"/>
<path d="M433.77,389.46L439.37,383.86L444.97,389.46L439.37,395.06Z" fill="none" stroke="#000" stroke-width="1.6"/>
<path d="M434.17,389.09L439.77,383.49L445.37,389.09L439.77,394.69Z" fill="none" stroke="#000" stroke-width="1.6"/>
<path d="M435.82,387.58L441.42,381.98L447.02,387.58L441.42,393.18Z" fill="none" stroke="#000" stroke-width="1.6"/>
<path d="M439.48,384.33L445.08,378.73L450.68,384.33L445.08,389.93Z" fill="none" stroke="#000" stroke-width="1.6"/>
<path d="M441.35,382.71L446.95,377.11L452.55,382.71L446.95,388.31Z" fill="none" stroke="#000" stroke-width="1.6"/>
<path d="M442.15,382.02L447.75,376.42L453.35,382.02L447.75,387.62Z" fill="none" stroke="#000" stroke-width="1.6"/>
<path d="M447.28,377.77L452.88,372.17L458.48,377.77L452.88,383.37Z" fill="none" stroke="#000" stroke-width="1.6"/>
<path d="M448.73,376.59L454.33,370.99L459.93,376.59L454.33,382.19Z" fill="none" stroke="#000" stroke-width="1.6"/>
<path d="M467.46,362.53L473.06,356.93L478.66,362.53L473.06,368.13Z" fill="none" stroke="#000" stroke-width="1.6"/>
<path d="M497.18,343.07L502.78,337.47L508.38,343.07L502.78,348.67Z" fill="none" stroke="#000" stroke-width="1.6"/>
<path d="M504.45,338.69L510.05,333.09L515.65,338.69L510.05,344.29Z" fill="none" stroke="#000" stroke-width="1.6"/>
<path d="M521.44,328.89L527.04,323.29L532.64,328.89L527.04,334.49Z" fill="none" stroke="#000" stroke-width="1.6"/>
<path d="M530.44,323.91L536.04,318.31L541.64,323.91L536.04,329.51Z" fill="none" stroke="#000" stroke-width="1.6"/>
<path d="M538.58,319.52L544.18,313.92L549.78,319.52L544.18,325.12Z" fill="none" stroke="#000" stroke-width="1.6"/>
<path d="M554.18,311.39L559.78,305.79L565.38,311.39L559.78,316.99Z" fill="none" stroke="#000" stroke-width="1.6"/>
<path d="M554.18,311.39L559.78,305.79L565.38,311.39L559.78,316.99Z" fill="none" stroke="#000" stroke-width="1.6"/>
<path d="M562.60,307.12L568.20,301.52L573.80,307.12L568.20,312.72Z" fill="none" stroke="#000" stroke-width="1.6"/>
<path d="M573.29,301.83L578.89,296.23L584.49,301.83L578.89,307.43Z" fill="none" stroke="#000" stroke-width="1.6"/>
<path d="M635.43,273.17L641.03,267.57L646.63,273.17L641.03,278.77Z" fill="none" stroke="#000" stroke-width="1.6"/>
<circle cx="630.52" cy="277.80" r="4.8" fill="#666" fill-opacity="0.65"/>
<circle cx="603.07" cy="290.29" r="4.8" fill="#666" fill-opacity="0.65"/>
<circle cx="572.87" cy="304.79" r="4.8" fill="#666" fill-opacity="0.65"/>
<circle cx="568.20" cy="307.12" r="4.8" fill="#666" fill-opacity="0.65"/>
<circle cx="550.74" cy="316.06" r="4.8" fill="#666" fill-opacity="0.65"/>
<circle cx="511.94" cy="337.57" r="4.8" fill="#666" fill-opacity="0.65"/>
<circle cx="490.27" cy="350.93" r="4.8" fill="#666" fill-opacity="0.65"/>
<circle cx="486.64" cy="353.28" r="4.8" fill="#666" fill-opacity="0.65"/>
<circle cx="471.82" cy="363.40" r="4.8" fill="#666" fill-opacity="0.65"/>
<circle cx="447.43" cy="382.30" r="4.8" fill="#666" fill-opacity="0.65"/>
<circle cx="425.23" cy="403.89" r="4.8" fill="#666" fill-opacity="0.65"/>
<circle cx="409.63" cy="425.62" r="4.8" fill="#666" fill-opacity="0.65"/>
<circle cx="406.24" cy="432.45" r="4.8" fill="#666" fill-opacity="0.65"/>
<circle cx="405.35" cy="434.55" r="4.8" fill="#666" fill-opacity="0.65"/>
<line x1="79.90" y1="548.20" x2="79.90" y2="755.40" stroke="#3a3a3a" stroke-width="1.7" stroke-dasharray="2 2.05" />
<line x1="162.50" y1="548.20" x2="162.50" y2="755.40" stroke="#3a3a3a" stroke-width="1.7" stroke-dasharray="2 2.05" />
<line x1="245.10" y1="548.20" x2="245.10" y2="755.40" stroke="#3a3a3a" stroke-width="1.7" stroke-dasharray="2 2.05" />
<line x1="66.80" y1="702.54" x2="318.40" y2="702.54" stroke="#3a3a3a" stroke-width="1.7" stroke-dasharray="2 2.05" />
<line x1="66.80" y1="650.67" x2="318.40" y2="650.67" stroke="#3a3a3a" stroke-width="1.7" stroke-dasharray="2 2.05" />
<line x1="66.80" y1="598.80" x2="318.40" y2="598.80" stroke="#3a3a3a" stroke-width="1.7" stroke-dasharray="2 2.05" />
<line x1="66.80" y1="548.50" x2="66.80" y2="756.40" stroke="#000" stroke-width="2.0" />
<line x1="62.40" y1="755.40" x2="320.90" y2="755.40" stroke="#000" stroke-width="2.0" />
<line x1="62.00" y1="754.41" x2="66.80" y2="754.41" stroke="#000" stroke-width="1.7" />
<line x1="63.80" y1="738.80" x2="66.80" y2="738.80" stroke="#000" stroke-width="1.4" />
<line x1="63.80" y1="729.66" x2="66.80" y2="729.66" stroke="#000" stroke-width="1.4" />
<line x1="63.80" y1="723.18" x2="66.80" y2="723.18" stroke="#000" stroke-width="1.4" />
<line x1="63.80" y1="718.15" x2="66.80" y2="718.15" stroke="#000" stroke-width="1.4" />
<line x1="63.80" y1="714.05" x2="66.80" y2="714.05" stroke="#000" stroke-width="1.4" />
<line x1="63.80" y1="710.57" x2="66.80" y2="710.57" stroke="#000" stroke-width="1.4" />
<line x1="63.80" y1="707.57" x2="66.80" y2="707.57" stroke="#000" stroke-width="1.4" />
<line x1="63.80" y1="704.91" x2="66.80" y2="704.91" stroke="#000" stroke-width="1.4" />
<line x1="62.00" y1="702.54" x2="66.80" y2="702.54" stroke="#000" stroke-width="1.7" />
<line x1="63.80" y1="686.93" x2="66.80" y2="686.93" stroke="#000" stroke-width="1.4" />
<line x1="63.80" y1="677.79" x2="66.80" y2="677.79" stroke="#000" stroke-width="1.4" />
<line x1="63.80" y1="671.31" x2="66.80" y2="671.31" stroke="#000" stroke-width="1.4" />
<line x1="63.80" y1="666.28" x2="66.80" y2="666.28" stroke="#000" stroke-width="1.4" />
<line x1="63.80" y1="662.18" x2="66.80" y2="662.18" stroke="#000" stroke-width="1.4" />
<line x1="63.80" y1="658.70" x2="66.80" y2="658.70" stroke="#000" stroke-width="1.4" />
<line x1="63.80" y1="655.70" x2="66.80" y2="655.70" stroke="#000" stroke-width="1.4" />
<line x1="63.80" y1="653.04" x2="66.80" y2="653.04" stroke="#000" stroke-width="1.4" />
<line x1="62.00" y1="650.67" x2="66.80" y2="650.67" stroke="#000" stroke-width="1.7" />
<line x1="63.80" y1="635.06" x2="66.80" y2="635.06" stroke="#000" stroke-width="1.4" />
<line x1="63.80" y1="625.92" x2="66.80" y2="625.92" stroke="#000" stroke-width="1.4" />
<line x1="63.80" y1="619.44" x2="66.80" y2="619.44" stroke="#000" stroke-width="1.4" />
<line x1="63.80" y1="614.41" x2="66.80" y2="614.41" stroke="#000" stroke-width="1.4" />
<line x1="63.80" y1="610.31" x2="66.80" y2="610.31" stroke="#000" stroke-width="1.4" />
<line x1="63.80" y1="606.83" x2="66.80" y2="606.83" stroke="#000" stroke-width="1.4" />
<line x1="63.80" y1="603.83" x2="66.80" y2="603.83" stroke="#000" stroke-width="1.4" />
<line x1="63.80" y1="601.17" x2="66.80" y2="601.17" stroke="#000" stroke-width="1.4" />
<line x1="62.00" y1="598.80" x2="66.80" y2="598.80" stroke="#000" stroke-width="1.7" />
<line x1="63.80" y1="583.19" x2="66.80" y2="583.19" stroke="#000" stroke-width="1.4" />
<line x1="63.80" y1="574.05" x2="66.80" y2="574.05" stroke="#000" stroke-width="1.4" />
<line x1="63.80" y1="567.57" x2="66.80" y2="567.57" stroke="#000" stroke-width="1.4" />
<line x1="63.80" y1="562.54" x2="66.80" y2="562.54" stroke="#000" stroke-width="1.4" />
<line x1="63.80" y1="558.44" x2="66.80" y2="558.44" stroke="#000" stroke-width="1.4" />
<line x1="63.80" y1="554.96" x2="66.80" y2="554.96" stroke="#000" stroke-width="1.4" />
<line x1="63.80" y1="551.96" x2="66.80" y2="551.96" stroke="#000" stroke-width="1.4" />
<line x1="63.80" y1="549.30" x2="66.80" y2="549.30" stroke="#000" stroke-width="1.4" />
<line x1="71.90" y1="755.40" x2="71.90" y2="758.40" stroke="#000" stroke-width="1.4" />
<line x1="76.12" y1="755.40" x2="76.12" y2="758.40" stroke="#000" stroke-width="1.4" />
<line x1="79.90" y1="755.40" x2="79.90" y2="760.20" stroke="#000" stroke-width="1.7" />
<line x1="104.77" y1="755.40" x2="104.77" y2="758.40" stroke="#000" stroke-width="1.4" />
<line x1="119.31" y1="755.40" x2="119.31" y2="758.40" stroke="#000" stroke-width="1.4" />
<line x1="129.63" y1="755.40" x2="129.63" y2="758.40" stroke="#000" stroke-width="1.4" />
<line x1="137.63" y1="755.40" x2="137.63" y2="758.40" stroke="#000" stroke-width="1.4" />
<line x1="144.18" y1="755.40" x2="144.18" y2="758.40" stroke="#000" stroke-width="1.4" />
<line x1="149.71" y1="755.40" x2="149.71" y2="758.40" stroke="#000" stroke-width="1.4" />
<line x1="154.50" y1="755.40" x2="154.50" y2="758.40" stroke="#000" stroke-width="1.4" />
<line x1="158.72" y1="755.40" x2="158.72" y2="758.40" stroke="#000" stroke-width="1.4" />
<line x1="162.50" y1="755.40" x2="162.50" y2="760.20" stroke="#000" stroke-width="1.7" />
<line x1="187.37" y1="755.40" x2="187.37" y2="758.40" stroke="#000" stroke-width="1.4" />
<line x1="201.91" y1="755.40" x2="201.91" y2="758.40" stroke="#000" stroke-width="1.4" />
<line x1="212.23" y1="755.40" x2="212.23" y2="758.40" stroke="#000" stroke-width="1.4" />
<line x1="220.23" y1="755.40" x2="220.23" y2="758.40" stroke="#000" stroke-width="1.4" />
<line x1="226.78" y1="755.40" x2="226.78" y2="758.40" stroke="#000" stroke-width="1.4" />
<line x1="232.31" y1="755.40" x2="232.31" y2="758.40" stroke="#000" stroke-width="1.4" />
<line x1="237.10" y1="755.40" x2="237.10" y2="758.40" stroke="#000" stroke-width="1.4" />
<line x1="241.32" y1="755.40" x2="241.32" y2="758.40" stroke="#000" stroke-width="1.4" />
<line x1="245.10" y1="755.40" x2="245.10" y2="760.20" stroke="#000" stroke-width="1.7" />
<line x1="269.97" y1="755.40" x2="269.97" y2="758.40" stroke="#000" stroke-width="1.4" />
<line x1="284.51" y1="755.40" x2="284.51" y2="758.40" stroke="#000" stroke-width="1.4" />
<line x1="294.83" y1="755.40" x2="294.83" y2="758.40" stroke="#000" stroke-width="1.4" />
<line x1="302.83" y1="755.40" x2="302.83" y2="758.40" stroke="#000" stroke-width="1.4" />
<line x1="309.38" y1="755.40" x2="309.38" y2="758.40" stroke="#000" stroke-width="1.4" />
<line x1="314.91" y1="755.40" x2="314.91" y2="758.40" stroke="#000" stroke-width="1.4" />
<line x1="319.70" y1="755.40" x2="319.70" y2="758.40" stroke="#000" stroke-width="1.4" />
<text x="4.05" y="551.60" font-size="25" font-weight="bold" fill="#000">C</text>
<text x="14.51" y="606.00" font-size="21.3" fill="#000">1000</text>
<text x="26.08" y="657.90" font-size="21.3" fill="#000">100</text>
<text x="37.75" y="709.70" font-size="21.3" fill="#000">10</text>
<text x="48.23" y="760.80" font-size="21.3" fill="#000">1</text>
<text x="68.00" y="778.40" font-size="21.3" fill="#000">10</text>
<text x="147.33" y="778.40" font-size="21.3" fill="#000">100</text>
<text x="223.26" y="778.40" font-size="21.3" fill="#000">1000</text>
<text x="163.14" y="797.00" font-size="25" fill="#000">G (pS)</text>
<text transform="translate(22.50,699.19) rotate(-90)" font-size="25" fill="#000">t (s)</text>
<rect x="195.90" y="633.80" width="7.8" height="7.8" fill="#000"/>
<rect x="198.40" y="636.50" width="7.8" height="7.8" fill="#000"/>
<rect x="197.90" y="653.70" width="7.8" height="7.8" fill="#000"/>
<rect x="219.60" y="664.00" width="7.8" height="7.8" fill="#000"/>
<rect x="195.40" y="673.70" width="7.8" height="7.8" fill="#000"/>
<rect x="190.90" y="681.90" width="7.8" height="7.8" fill="#000"/>
<rect x="195.40" y="688.90" width="7.8" height="7.8" fill="#000"/>
<rect x="221.60" y="693.90" width="7.8" height="7.8" fill="#000"/>
<rect x="233.30" y="689.90" width="7.8" height="7.8" fill="#000"/>
<rect x="233.30" y="699.40" width="7.8" height="7.8" fill="#000"/>
<rect x="254.00" y="680.70" width="7.8" height="7.8" fill="#000"/>
<rect x="242.00" y="720.00" width="7.8" height="7.8" fill="#000"/>
<rect x="249.00" y="727.50" width="7.8" height="7.8" fill="#000"/>
<path d="M69.60,660.10L74.80,654.90L80.00,660.10L74.80,665.30Z" fill="none" stroke="#000" stroke-width="1.8"/>
<path d="M103.70,606.00L108.90,600.80L114.10,606.00L108.90,611.20Z" fill="none" stroke="#000" stroke-width="1.8"/>
<path d="M103.70,655.20L108.90,650.00L114.10,655.20L108.90,660.40Z" fill="none" stroke="#000" stroke-width="1.8"/>
<path d="M130.10,718.50L135.30,713.30L140.50,718.50L135.30,723.70Z" fill="none" stroke="#000" stroke-width="1.8"/>
<path d="M152.20,569.40L157.40,564.20L162.60,569.40L157.40,574.60Z" fill="none" stroke="#000" stroke-width="1.8"/>
<path d="M139.80,593.10L145.00,587.90L150.20,593.10L145.00,598.30Z" fill="none" stroke="#000" stroke-width="1.8"/>
<path d="M146.50,595.30L151.70,590.10L156.90,595.30L151.70,600.50Z" fill="none" stroke="#000" stroke-width="1.8"/>
<path d="M151.70,599.30L156.90,594.10L162.10,599.30L156.90,604.50Z" fill="none" stroke="#000" stroke-width="1.8"/>
<path d="M149.30,619.80L154.50,614.60L159.70,619.80L154.50,625.00Z" fill="none" stroke="#000" stroke-width="1.8"/>
<path d="M159.20,625.50L164.40,620.30L169.60,625.50L164.40,630.70Z" fill="none" stroke="#000" stroke-width="1.8"/>
<path d="M158.50,637.20L163.70,632.00L168.90,637.20L163.70,642.40Z" fill="none" stroke="#000" stroke-width="1.8"/>
<path d="M153.50,645.40L158.70,640.20L163.90,645.40L158.70,650.60Z" fill="none" stroke="#000" stroke-width="1.8"/>
<path d="M158.50,657.10L163.70,651.90L168.90,657.10L163.70,662.30Z" fill="none" stroke="#000" stroke-width="1.8"/>
<path d="M162.20,662.60L167.40,657.40L172.60,662.60L167.40,667.80Z" fill="none" stroke="#000" stroke-width="1.8"/>
<path d="M170.40,619.80L175.60,614.60L180.80,619.80L175.60,625.00Z" fill="none" stroke="#000" stroke-width="1.8"/>
<path d="M177.90,642.20L183.10,637.00L188.30,642.20L183.10,647.40Z" fill="none" stroke="#000" stroke-width="1.8"/>
<path d="M182.90,595.30L188.10,590.10L193.30,595.30L188.10,600.50Z" fill="none" stroke="#000" stroke-width="1.8"/>
<path d="M197.10,602.30L202.30,597.10L207.50,602.30L202.30,607.50Z" fill="none" stroke="#000" stroke-width="1.8"/>
<path d="M206.30,578.60L211.50,573.40L216.70,578.60L211.50,583.80Z" fill="none" stroke="#000" stroke-width="1.8"/>
<path d="M215.30,584.40L220.50,579.20L225.70,584.40L220.50,589.60Z" fill="none" stroke="#000" stroke-width="1.8"/>
<path d="M222.00,588.60L227.20,583.40L232.40,588.60L227.20,593.80Z" fill="none" stroke="#000" stroke-width="1.8"/>
<path d="M230.00,587.40L235.20,582.20L240.40,587.40L235.20,592.60Z" fill="none" stroke="#000" stroke-width="1.8"/>
<path d="M231.50,577.90L236.70,572.70L241.90,577.90L236.70,583.10Z" fill="none" stroke="#000" stroke-width="1.8"/>
<path d="M210.80,634.00L216.00,628.80L221.20,634.00L216.00,639.20Z" fill="none" stroke="#000" stroke-width="1.8"/>
<path d="M219.50,627.20L224.70,622.00L229.90,627.20L224.70,632.40Z" fill="none" stroke="#000" stroke-width="1.8"/>
<path d="M224.50,631.00L229.70,625.80L234.90,631.00L229.70,636.20Z" fill="none" stroke="#000" stroke-width="1.8"/>
<path d="M230.30,636.00L235.50,630.80L240.70,636.00L235.50,641.20Z" fill="none" stroke="#000" stroke-width="1.8"/>
<path d="M230.30,647.20L235.50,642.00L240.70,647.20L235.50,652.40Z" fill="none" stroke="#000" stroke-width="1.8"/>
<path d="M212.10,677.80L217.30,672.60L222.50,677.80L217.30,683.00Z" fill="none" stroke="#000" stroke-width="1.8"/>
<path d="M197.60,695.00L202.80,689.80L208.00,695.00L202.80,700.20Z" fill="none" stroke="#000" stroke-width="1.8"/>
<path d="M214.10,718.20L219.30,713.00L224.50,718.20L219.30,723.40Z" fill="none" stroke="#000" stroke-width="1.8"/>
<path d="M247.00,674.10L252.20,668.90L257.40,674.10L252.20,679.30Z" fill="none" stroke="#000" stroke-width="1.8"/>
<path d="M242.50,687.10L247.70,681.90L252.90,687.10L247.70,692.30Z" fill="none" stroke="#000" stroke-width="1.8"/>
<path d="M264.40,631.50L269.60,626.30L274.80,631.50L269.60,636.70Z" fill="none" stroke="#000" stroke-width="1.8"/>
<path d="M271.90,637.20L277.10,632.00L282.30,637.20L277.10,642.40Z" fill="none" stroke="#000" stroke-width="1.8"/>
<path d="M279.40,633.50L284.60,628.30L289.80,633.50L284.60,638.70Z" fill="none" stroke="#000" stroke-width="1.8"/>
<path d="M281.90,637.70L287.10,632.50L292.30,637.70L287.10,642.90Z" fill="none" stroke="#000" stroke-width="1.8"/>
<path d="M273.10,650.40L278.30,645.20L283.50,650.40L278.30,655.60Z" fill="none" stroke="#000" stroke-width="1.8"/>
<path d="M272.60,671.40L277.80,666.20L283.00,671.40L277.80,676.60Z" fill="none" stroke="#000" stroke-width="1.8"/>
<path d="M276.90,668.40L282.10,663.20L287.30,668.40L282.10,673.60Z" fill="none" stroke="#000" stroke-width="1.8"/>
<path d="M285.10,667.90L290.30,662.70L295.50,667.90L290.30,673.10Z" fill="none" stroke="#000" stroke-width="1.8"/>
<path d="M266.20,690.30L271.40,685.10L276.60,690.30L271.40,695.50Z" fill="none" stroke="#000" stroke-width="1.8"/>
<path d="M274.40,686.60L279.60,681.40L284.80,686.60L279.60,691.80Z" fill="none" stroke="#000" stroke-width="1.8"/>
<circle cx="159.90" cy="579.90" r="4.6" fill="#707070"/>
<circle cx="166.90" cy="586.60" r="4.6" fill="#707070"/>
<circle cx="172.40" cy="592.30" r="4.6" fill="#707070"/>
<circle cx="180.60" cy="620.50" r="4.6" fill="#707070"/>
<circle cx="229.70" cy="619.80" r="4.6" fill="#707070"/>
<circle cx="183.60" cy="683.30" r="4.6" fill="#707070"/>
<circle cx="278.30" cy="659.10" r="4.6" fill="#707070"/>
<circle cx="283.80" cy="689.60" r="4.6" fill="#707070"/>
<circle cx="300.80" cy="680.80" r="4.6" fill="#707070"/>
<circle cx="255.40" cy="726.40" r="4.6" fill="#707070"/>
<circle cx="245.40" cy="739.40" r="4.6" fill="#707070"/>
<circle cx="296.30" cy="741.50" r="4.6" fill="#707070"/>
<circle cx="315.40" cy="671.60" r="4.6" fill="#707070"/>
<circle cx="274.00" cy="747.10" r="4.6" fill="#707070"/>
<circle cx="311.60" cy="553.70" r="4.6" fill="#707070"/>
<line x1="394.80" y1="566.20" x2="394.80" y2="773.35" stroke="#000" stroke-width="1.7" />
<line x1="393.95" y1="772.50" x2="648.80" y2="772.50" stroke="#000" stroke-width="1.7" />
<rect x="392.8" y="585.6" width="4" height="3.9" fill="#fcfcfc"/>
<line x1="390.40" y1="587.80" x2="399.50" y2="583.60" stroke="#000" stroke-width="1.5" />
<line x1="390.40" y1="591.60" x2="399.50" y2="587.40" stroke="#000" stroke-width="1.5" />
<line x1="389.80" y1="576.10" x2="394.80" y2="576.10" stroke="#000" stroke-width="1.4" />
<line x1="389.80" y1="764.60" x2="394.80" y2="764.60" stroke="#000" stroke-width="1.4" />
<line x1="391.80" y1="732.80" x2="394.80" y2="732.80" stroke="#000" stroke-width="1.1" />
<line x1="391.80" y1="701.00" x2="394.80" y2="701.00" stroke="#000" stroke-width="1.1" />
<line x1="391.80" y1="669.20" x2="394.80" y2="669.20" stroke="#000" stroke-width="1.1" />
<line x1="389.80" y1="637.40" x2="394.80" y2="637.40" stroke="#000" stroke-width="1.4" />
<line x1="391.80" y1="605.60" x2="394.80" y2="605.60" stroke="#000" stroke-width="1.1" />
<line x1="436.70" y1="772.50" x2="436.70" y2="777.00" stroke="#000" stroke-width="1.4" />
<line x1="521.40" y1="772.50" x2="521.40" y2="777.00" stroke="#000" stroke-width="1.4" />
<line x1="605.70" y1="772.50" x2="605.70" y2="777.00" stroke="#000" stroke-width="1.4" />
<text x="334.96" y="554.00" font-size="25" font-weight="bold" fill="#000">D</text>
<text x="350.65" y="583.40" font-size="21.8" fill="#000">120</text>
<text x="361.70" y="645.10" font-size="21.8" fill="#000">40</text>
<text x="373.78" y="772.00" font-size="21.8" fill="#000">0</text>
<text x="417.88" y="796.80" font-size="25" fill="#000">Lag</text>
<text x="473.79" y="796.80" font-size="25" fill="#000">Growth</text>
<text x="567.16" y="796.80" font-size="25" fill="#000">Plateau</text>
<text transform="translate(359.50,741.60) rotate(-90)" font-size="25" fill="#000">&lt;I&gt; (pA)</text>
<text x="455.55" y="624.20" font-size="21.7" fill="#000">**</text>
<text x="403.56" y="745.00" font-size="22.5" fill="#000">n=1/7</text>
<text x="456.68" y="670.30" font-size="22.5" fill="#000">n=5/6</text>
<text x="544.53" y="618.10" font-size="22.5" fill="#000">n=2/6</text>
<polyline fill="none" stroke="#000" stroke-width="2.3" points="412.3,629.6 412.3,623.1 502.7,623.1 502.7,629"/>
<line x1="402.30" y1="764.30" x2="470.80" y2="764.30" stroke="#000" stroke-width="1.4" stroke-dasharray="2 1.5" />
<rect x="402.90" y="761.70" width="5" height="5" fill="#000"/>
<rect x="409.40" y="761.70" width="5" height="5" fill="#000"/>
<rect x="415.90" y="761.70" width="5" height="5" fill="#000"/>
<rect x="423.10" y="761.70" width="5" height="5" fill="#000"/>
<rect x="444.50" y="761.70" width="5" height="5" fill="#000"/>
<rect x="451.70" y="761.70" width="5" height="5" fill="#000"/>
<rect x="458.20" y="761.70" width="5" height="5" fill="#000"/>
<rect x="464.70" y="761.70" width="5" height="5" fill="#000"/>
<rect x="433.90" y="752.70" width="5.4" height="5.4" fill="#000"/>
<line x1="431.80" y1="755.40" x2="441.40" y2="755.40" stroke="#000" stroke-width="1.3" />
<rect x="487.00" y="677.30" width="68.30" height="52.20" fill="none" stroke="#000" stroke-width="1.6" stroke-dasharray="2.3 1.6"/>
<line x1="487.00" y1="725.60" x2="555.30" y2="725.60" stroke="#000" stroke-width="1.6" stroke-dasharray="2.3 1.6" />
<line x1="487.00" y1="703.00" x2="555.30" y2="703.00" stroke="#000" stroke-width="1.7" />
<line x1="521.40" y1="595.30" x2="521.40" y2="677.30" stroke="#000" stroke-width="1.6" stroke-dasharray="2.3 1.6" />
<line x1="521.40" y1="729.50" x2="521.40" y2="765.00" stroke="#000" stroke-width="1.6" stroke-dasharray="2.3 1.6" />
<line x1="516.20" y1="765.00" x2="526.60" y2="765.00" stroke="#222" stroke-width="1.0" stroke-dasharray="1.4 0.9" />
<line x1="521.40" y1="763.00" x2="521.40" y2="767.00" stroke="#222" stroke-width="0.9" />
<path d="M516.40,595.30L521.40,590.70L526.40,595.30L521.40,599.90Z" fill="#000" stroke="none" stroke-width="0"/>
<path d="M516.40,659.40L521.40,654.80L526.40,659.40L521.40,664.00Z" fill="#000" stroke="none" stroke-width="0"/>
<path d="M507.70,709.10L512.70,704.50L517.70,709.10L512.70,713.70Z" fill="#000" stroke="none" stroke-width="0"/>
<path d="M524.10,749.10L529.10,744.50L534.10,749.10L529.10,753.70Z" fill="#000" stroke="none" stroke-width="0"/>
<path d="M541.30,741.60L546.30,737.00L551.30,741.60L546.30,746.20Z" fill="#000" stroke="none" stroke-width="0"/>
<path d="M491.00,765.30L496.00,760.70L501.00,765.30L496.00,769.90Z" fill="#000" stroke="none" stroke-width="0"/>
<rect x="571.50" y="625.40" width="68.30" height="139.90" fill="none" stroke="#000" stroke-width="1.6" stroke-dasharray="2.3 1.6"/>
<line x1="571.50" y1="761.50" x2="639.80" y2="761.50" stroke="#000" stroke-width="1.6" stroke-dasharray="2.3 1.6" />
<line x1="571.50" y1="692.90" x2="639.80" y2="692.90" stroke="#000" stroke-width="1.7" />
<line x1="605.70" y1="572.40" x2="605.70" y2="625.40" stroke="#000" stroke-width="1.6" stroke-dasharray="2.3 1.6" />
<path d="M600.70,572.40L605.70,567.80L610.70,572.40L605.70,577.00Z" fill="#000" stroke="none" stroke-width="0"/>
<circle cx="605.70" cy="744.60" r="3.5" fill="#000"/>
<circle cx="578.20" cy="765.30" r="3.5" fill="#000"/>
<circle cx="591.90" cy="765.30" r="3.5" fill="#000"/>
<circle cx="618.60" cy="765.30" r="3.5" fill="#000"/>
<circle cx="632.30" cy="765.30" r="3.5" fill="#000"/>
</svg>
</body>
</html>
